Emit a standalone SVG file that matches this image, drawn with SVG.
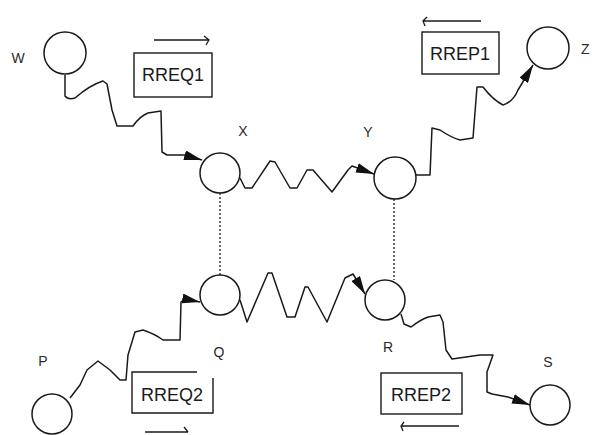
<svg xmlns="http://www.w3.org/2000/svg" width="592" height="435" viewBox="0 0 592 435">
  <style>
    .node { fill: #fff; stroke: #1a1a1a; stroke-width: 1.5; }
    .lbl { font-family: "Liberation Sans", Arial, sans-serif; font-size: 14px; fill: #2a2a2a; }
    .msg { font-family: "Liberation Sans", Arial, sans-serif; font-size: 18px; fill: #1a1a1a; }
    .box { fill: none; stroke: #1a1a1a; stroke-width: 1.4; }
    .link { fill: none; stroke: #1a1a1a; stroke-width: 1.5; stroke-linejoin: round; }
    .arrowed { marker-end: url(#head); }
    .dot { fill: none; stroke: #1a1a1a; stroke-width: 1.3; stroke-dasharray: 2 2; }
    .dir { fill: none; stroke: #1a1a1a; stroke-width: 1.3; }
  </style>
  <defs>
    <marker id="head" viewBox="0 0 18 10" refX="18" refY="5" markerWidth="18" markerHeight="10" markerUnits="userSpaceOnUse" orient="auto">
      <path d="M0,0 L18,5 L0,10 Z" fill="#111"/>
    </marker>
  </defs>
  <rect width="592" height="435" fill="#fff"/>

  <!-- links between nodes -->
  <g id="connectors">
    <path class="link arrowed" d="M65,75 L65,96 Q68,100 75,98 Q90,85 103,81 L107,84 L112,110 L117,126 L133,126 Q140,116 148,113 L161,111 L162,152 L167,155 L184,155 L202,160"/>
    <path class="link arrowed" d="M414,175 L430,175 L432,128 L440,130 Q452,138 460,140 L473,138 L477,87 L483,87 Q493,100 503,105 Q513,102 518,90 L533,65"/>
    <path class="link arrowed" d="M240,178 L245,188 L252,188 L270,161 L275,162 L290,188 L297,188 L307,170 L313,170 L332,192 L348,170 L352,166 L374,174"/>
    <path class="link arrowed" d="M240,300 L247,322 L268,273 L272,273 L287,317 L295,317 L305,287 L308,287 L327,322 L345,278 L353,274 L365,294"/>
    <path class="link arrowed" d="M70,398 L80,385 L87,370 L98,361 L110,370 L120,380 L126,380 L128,355 L135,332 L143,330 Q155,334 163,340 L180,340 L181,302 L185,299 L200,302"/>
    <path class="link arrowed" d="M401,314 L404,324 L411,327 Q420,320 428,317 L440,315 L443,322 L446,350 L452,359 L466,357 L480,355 L493,355 L487,372 L487,392 L492,394 L508,397 L530,405"/>
    <line class="dot" x1="220" y1="193" x2="220" y2="275"/>
    <line class="dot" x1="394" y1="199" x2="394" y2="280"/>
  </g>

  <g id="node-W">
    <circle class="node" cx="65" cy="53" r="21"/>
    <text class="lbl" x="18" y="63" text-anchor="middle">W</text>
  </g>
  <g id="node-X">
    <circle class="node" cx="220" cy="173" r="20"/>
    <text class="lbl" x="243" y="136" text-anchor="middle">X</text>
  </g>
  <g id="node-Y">
    <circle class="node" cx="395" cy="178" r="21"/>
    <text class="lbl" x="368" y="137" text-anchor="middle">Y</text>
  </g>
  <g id="node-Z">
    <circle class="node" cx="548" cy="48" r="21"/>
    <text class="lbl" x="581" y="54">Z</text>
  </g>
  <g id="node-P">
    <circle class="node" cx="52" cy="414" r="20"/>
    <text class="lbl" x="43" y="366" text-anchor="middle">P</text>
  </g>
  <g id="node-Q">
    <circle class="node" cx="220" cy="295" r="20"/>
    <text class="lbl" x="219" y="357" text-anchor="middle">Q</text>
  </g>
  <g id="node-R">
    <circle class="node" cx="385" cy="300" r="20"/>
    <text class="lbl" x="388" y="352" text-anchor="middle">R</text>
  </g>
  <g id="node-S">
    <circle class="node" cx="550" cy="405" r="20"/>
    <text class="lbl" x="548" y="367" text-anchor="middle">S</text>
  </g>

  <!-- message tags with direction arrows -->
  <g id="msg-RREQ1">
    <rect class="box" x="134" y="53" width="78" height="44"/>
    <text class="msg" x="173" y="81" text-anchor="middle">RREQ1</text>
    <path class="dir" d="M154,40 H209 M204,36 L209,40 L206,45"/>
  </g>
  <g id="msg-RREP1">
    <rect class="box" x="422" y="32" width="77" height="42"/>
    <text class="msg" x="460" y="60" text-anchor="middle">RREP1</text>
    <path class="dir" d="M423,21 H481 M427,17 L423,21 L425,26"/>
  </g>
  <g id="msg-RREQ2">
    <path class="box" d="M213,378 V413 H132 V372 H197"/>
    <text class="msg" x="172" y="401" text-anchor="middle">RREQ2</text>
    <path class="dir" d="M145,432 H188 M184,427 L188,432"/>
  </g>
  <g id="msg-RREP2">
    <rect class="box" x="381" y="373" width="81" height="41"/>
    <text class="msg" x="421" y="401" text-anchor="middle">RREP2</text>
    <path class="dir" d="M401,426 H459 M404,422 L401,426 L403,431"/>
  </g>
</svg>
